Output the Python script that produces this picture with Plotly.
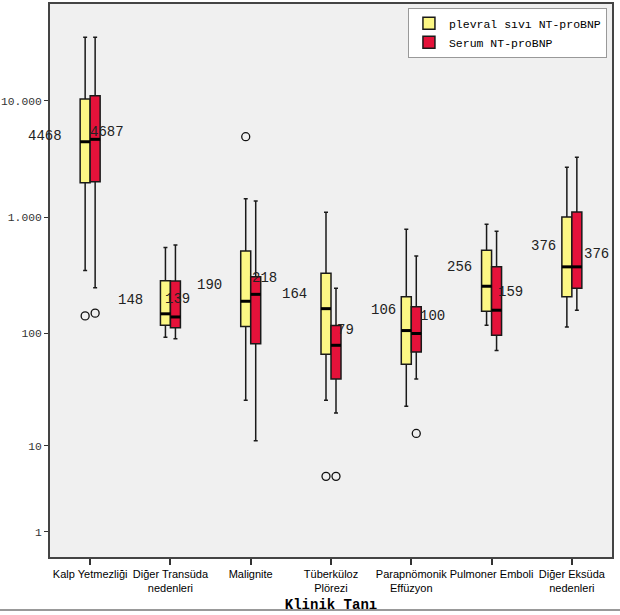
import numpy as np
import plotly.graph_objects as go

# ---------------- data ----------------
categories = ["Kalp Yetmezliği", "Diğer Transüda<br>nedenleri", "Malignite",
              "Tüberküloz<br>Plörezi", "Parapnömonik<br>Effüzyon",
              "Pulmoner Emboli", "Diğer Eksüda<br>nedenleri"]

pl_lower = [349, 93, 26, 26, 23, 118, 114]
pl_q1 = [1990, 118, 115, 66, 54, 156, 208]
pl_median = [4468, 148, 190, 164, 106, 256, 376]
pl_q3 = [10400, 286, 515, 331, 208, 522, 1009]
pl_upper = [35250, 553, 1450, 1107, 791, 873, 2697]
pl_outliers = [[142], [], [4938], [5], [], [], []]

se_lower = [248, 90, 11.1, 20, 40, 71, 159]
se_q1 = [2027, 112, 81.5, 40, 69, 96.5, 246]
se_median = [4687, 139, 218, 79, 100, 159, 376]
se_q3 = [11100, 284, 309, 117, 170, 377, 1114]
se_upper = [35250, 580, 1385, 246, 466, 760, 3286]
se_outliers = [[150], [], [], [5], [13], [], []]

tick_values = [10000, 1000, 100, 10, 1]
tick_labels = ["10.000", "1.000", "100", "10", "1"]

series_names = ["plevral sıvı NT-proBNP", "Serum NT-proBNP"]

# ---------------- styling / layout ----------------
YELLOW = "#FCF784"
RED = "#E5123A"
BOX_W = 0.1245          # width of one box in category units
OFFS = [-BOX_W / 2, BOX_W / 2]

# label pixel shifts (layout only)
pl_label_dx = [-28, -27, -29, -24, -15, -20, -16]
pl_label_dy = [6, 14, 16, 15, 21, 19, 21]
se_label_dx = [-2, -7, -1, 4, 7, 4, 10]
se_label_dy = [7, 18, 16, 15, 17, 18, 13]


def tr(v):
    """axis transform: log10(x + 1)"""
    return np.log10(np.asarray(v, dtype=float) + 1.0)


idx = np.arange(len(categories))
fig = go.Figure()

series = [
    (series_names[0], YELLOW, pl_lower, pl_q1, pl_median, pl_q3, pl_upper, pl_outliers),
    (series_names[1], RED, se_lower, se_q1, se_median, se_q3, se_upper, se_outliers),
]

for k, (name, col, lo, q1, med, q3, up, outl) in enumerate(series):
    xs = idx + OFFS[k]
    fig.add_trace(go.Box(
        name=name, x=xs,
        lowerfence=tr(lo), q1=tr(q1), median=tr(med), q3=tr(q3), upperfence=tr(up),
        width=BOX_W, whiskerwidth=0.4, boxpoints=False,
        fillcolor=col, line=dict(color="#1a1a1a", width=1.5),
        hoverinfo="skip",
    ))

for k, (name, col, lo, q1, med, q3, up, outl) in enumerate(series):
    xs = idx + OFFS[k]
    # thick median bars
    mx, my = [], []
    for x, m in zip(xs, tr(med)):
        mx += [x - BOX_W / 2, x + BOX_W / 2, None]
        my += [m, m, None]
    fig.add_trace(go.Scatter(x=mx, y=my, mode="lines",
                             line=dict(color="black", width=3),
                             showlegend=False, hoverinfo="skip"))
    # outliers
    ox, oy = [], []
    for x, vals in zip(xs, outl):
        for v in vals:
            ox.append(x)
            oy.append(float(tr(v)))
    fig.add_trace(go.Scatter(x=ox, y=oy, mode="markers",
                             marker=dict(symbol="circle-open", size=8,
                                         color="#111", line=dict(width=1.3)),
                             showlegend=False, hoverinfo="skip"))

# median labels
for i in idx:
    fig.add_annotation(x=i - BOX_W, y=float(tr(pl_median[i])), text=str(pl_median[i]),
                       showarrow=False, xanchor="right", yanchor="middle",
                       xshift=pl_label_dx[i] + 12, yshift=pl_label_dy[i],
                       font=dict(family="Liberation Mono", size=14, color="#222"))
    fig.add_annotation(x=i, y=float(tr(se_median[i])), text=str(se_median[i]),
                       showarrow=False, xanchor="left", yanchor="middle",
                       xshift=se_label_dx[i], yshift=se_label_dy[i],
                       font=dict(family="Liberation Mono", size=14, color="#222"))

fig.update_layout(
    width=620, height=615,
    margin=dict(l=50, r=8, t=4, b=58),
    paper_bgcolor="white", plot_bgcolor="#F0F0F0",
    boxmode="overlay",
    showlegend=True,
    legend=dict(x=0.991, xanchor="right", y=0.993, yanchor="top",
                bgcolor="white", bordercolor="#999", borderwidth=1,
                font=dict(family="Liberation Mono", size=11.5, color="black"),
                tracegroupgap=0, itemwidth=30),
    xaxis=dict(range=[-0.5, len(categories) - 0.5], tickmode="array",
               tickvals=list(idx), ticktext=categories, tickangle=0,
               automargin=False,
               showgrid=False, zeroline=False,
               showline=True, linecolor="#444", linewidth=1.5, mirror=True,
               ticks="outside", ticklen=6, tickwidth=1.5, tickcolor="#333",
               tickfont=dict(family="Liberation Sans", size=11, color="black"),
               title=dict(text="<b>Klinik Tanı</b>", standoff=6,
                          font=dict(family="Liberation Mono", size=14, color="black"))),
    yaxis=dict(range=[0.0858, 4.8326], tickmode="array",
               tickvals=list(tr(tick_values)), ticktext=tick_labels,
               automargin=False,
               showgrid=False, zeroline=False,
               showline=True, linecolor="#444", linewidth=2, mirror=True,
               ticks="outside", ticklen=4, tickwidth=1.2, tickcolor="#333",
               tickfont=dict(family="Liberation Mono", size=11.3, color="#333")),
)

fig.add_shape(type="line", xref="paper", yref="paper",
              x0=-50 / 562, x1=570 / 562, y0=-53 / 553, y1=-53 / 553,
              line=dict(color="#999", width=2))

fig.write_html("out.html", config={"displayModeBar": False},
               post_script="document.body.style.margin='0';document.body.style.overflow='hidden';")
